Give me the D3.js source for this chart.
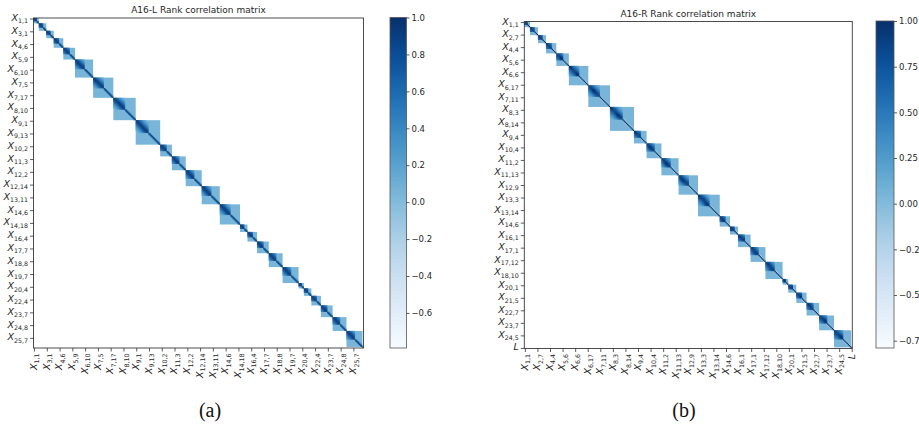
<!DOCTYPE html>
<html><head><meta charset="utf-8">
<script src="https://cdn.jsdelivr.net/npm/d3@7"></script>
<style>body{margin:0;background:#fff} svg{display:block}</style>
</head><body>
<svg id="c" width="919" height="432"></svg>
<script>
// ---------- data ----------
// variables per group (X_{g,j}), in order; last variable of each matrix is L
const groupSizesA = [5,7,7,9,11,17,19,21,23,11,13,15,17,19,7,9,11,13,15,5,7,9,11,13,15];
const tickLabelsA = ["1,1","3,1","4,6","5,9","6,10","7,5","7,17","8,10","9,1","9,13","10,2","11,3","12,2","12,14","13,11","14,6","14,18","16,4","17,7","18,8","19,7","20,4","22,4","23,7","24,8","25,7"];
const tickStepA = 12;

const groupSizesB = [5,7,7,9,11,17,19,21,11,13,15,17,19,9,7,11,13,15,5,7,9,11,13,15];
const tickLabelsB = ["1,1","2,7","4,4","5,6","6,6","6,17","7,11","8,3","8,14","9,4","10,4","11,2","11,13","12,9","13,3","13,14","14,6","16,1","17,1","17,12","18,10","20,1","21,5","22,7","23,7","24,5","L"];
const tickStepB = 11;

// correlation by lag inside the leading part of each group, the rest of the block, and the trailing part
const coreLagValues = [1.0, 0.9, 0.78, 0.65, 0.52, 0.4, 0.3, 0.22, 0.15, 0.1];
const blockValue = 0.05;
const tailLagValuesA = [1.0, 0.45];
const tailLagValuesB = [1.0, -0.15];

const cbTicksA = [-0.6,-0.4,-0.2,0.0,0.2,0.4,0.6,0.8,1.0];
const cbTicksB = [-0.75,-0.5,-0.25,0.0,0.25,0.5,0.75,1.0];
const vmin = -0.79, vmax = 1.0;

// ---------- drawing ----------
const svg = d3.select("#c");
const color = d3.scaleSequential(d3.interpolateBlues).domain([vmin, vmax]);
const FONT = "DejaVu Sans, sans-serif";

const panels = [
  {title:"A16-L Rank correlation matrix", sizes:groupSizesA, labels:tickLabelsA, step:tickStepA, tail:tailLagValuesA,
   left:33.5, top:18, w:330, h:330, cb:{x:390, y:17.5, w:16.5, h:330.5, ticks:cbTicksA, fmt:d3.format(".1f")},
   caption:"(a)", capX:210, id:"a"},
  {title:"A16-R Rank correlation matrix", sizes:groupSizesB, labels:tickLabelsB, step:tickStepB, tail:tailLagValuesB,
   left:524.3, top:21.5, w:328, h:327, cb:{x:876, y:21, w:18, h:327, ticks:cbTicksB, fmt:d3.format(".2f")},
   caption:"(b)", capX:684, id:"b"}
];

panels.forEach(p => {
  const N = d3.sum(p.sizes) + 1; // + L
  const x = d3.scaleLinear().domain([0, N]).range([p.left, p.left + p.w]);
  const y = d3.scaleLinear().domain([0, N]).range([p.top, p.top + p.h]);
  const g = svg.append("g");

  // blocks
  const blocks = [];
  let start = 0;
  p.sizes.forEach(n => { blocks.push({start, n}); start += n; });
  g.selectAll("rect.block").data(blocks).join("rect")
    .attr("x", d => x(d.start)).attr("y", d => y(d.start))
    .attr("width", d => x(d.start + d.n) - x(d.start))
    .attr("height", d => y(d.start + d.n) - y(d.start))
    .attr("fill", color(blockValue));

  // cells inside blocks
  const cells = [];
  blocks.forEach(b => {
    const c = Math.ceil(b.n / 2);
    for (let i = 0; i < c; i++) for (let j = 0; j < c; j++) {
      const lag = Math.abs(i - j);
      if (lag < coreLagValues.length) cells.push({i: b.start + i, j: b.start + j, v: coreLagValues[lag]});
    }
    for (let i = c; i < b.n; i++) {
      cells.push({i: b.start + i, j: b.start + i, v: p.tail[0]});
      if (i - 1 >= c) { cells.push({i: b.start + i, j: b.start + i - 1, v: p.tail[1]}); }
      if (i + 1 < b.n) { cells.push({i: b.start + i, j: b.start + i + 1, v: p.tail[1]}); }
    }
  });
  cells.push({i: N - 1, j: N - 1, v: 1.0});
  cells.sort((a, b) => a.v - b.v);
  g.selectAll("rect.cell").data(cells).join("rect")
    .attr("x", d => x(d.j) - 0.1).attr("y", d => y(d.i) - 0.1)
    .attr("width", d => x(d.j + 1) - x(d.j) + 0.2)
    .attr("height", d => y(d.i + 1) - y(d.i) + 0.2)
    .attr("fill", d => color(d.v));

  // frame
  g.append("rect").attr("x", p.left).attr("y", p.top).attr("width", p.w).attr("height", p.h)
    .attr("fill", "none").attr("stroke", "#3a3a3a").attr("stroke-width", 0.9);

  // ticks
  const tickIdx = p.labels.map((l, k) => k * p.step + 0.5);
  g.append("g").attr("transform", `translate(${p.left},0)`)
    .call(d3.axisLeft(y).tickValues(tickIdx).tickSize(3.5).tickFormat(""))
    .call(a => a.select(".domain").remove())
    .selectAll("line").attr("stroke", "#333").attr("stroke-width", 0.8);
  g.append("g").attr("transform", `translate(0,${p.top + p.h})`)
    .call(d3.axisBottom(x).tickValues(tickIdx).tickSize(3.5).tickFormat(""))
    .call(a => a.select(".domain").remove())
    .selectAll("line").attr("stroke", "#333").attr("stroke-width", 0.8);

  function mathLabel(t, lab) {
    if (lab === "L") {
      t.append("tspan").attr("font-style", "italic").attr("font-size", 9.5).text("L");
    } else {
      t.append("tspan").attr("font-style", "italic").attr("font-size", 9.5).text("X");
      t.append("tspan").attr("font-size", 6.3).attr("dy", 2.4).text(lab);
    }
  }
  // y labels
  p.labels.forEach((lab, k) => {
    const t = g.append("text").attr("x", p.left - 5.5).attr("y", y(tickIdx[k]) + 2.5)
      .attr("text-anchor", "end").attr("font-family", FONT).attr("fill", "#262626");
    mathLabel(t, lab);
  });
  // x labels
  p.labels.forEach((lab, k) => {
    const t = g.append("text")
      .attr("transform", `translate(${x(tickIdx[k])},${p.top + p.h + 5.5}) rotate(-90)`)
      .attr("x", 0).attr("y", 2.8)
      .attr("text-anchor", "end").attr("font-family", FONT).attr("fill", "#262626");
    mathLabel(t, lab);
  });

  // title
  g.append("text").attr("x", p.left + p.w / 2).attr("y", p.top - 5)
    .attr("text-anchor", "middle").attr("font-family", FONT).attr("font-size", 9)
    .attr("fill", "#262626").text(p.title);

  // colorbar
  const cb = p.cb;
  const gradId = "grad" + p.id;
  const grad = svg.append("defs").append("linearGradient").attr("id", gradId)
    .attr("x1", 0).attr("y1", 1).attr("x2", 0).attr("y2", 0);
  d3.range(0, 1.0001, 0.05).forEach(t => grad.append("stop").attr("offset", t).attr("stop-color", d3.interpolateBlues(t)));
  g.append("rect").attr("x", cb.x).attr("y", cb.y).attr("width", cb.w).attr("height", cb.h)
    .attr("fill", `url(#${gradId})`).attr("stroke", "#555").attr("stroke-width", 0.8);
  const cs = d3.scaleLinear().domain([vmin, vmax]).range([cb.y + cb.h, cb.y]);
  const ax = g.append("g").attr("transform", `translate(${cb.x + cb.w},0)`)
    .call(d3.axisRight(cs).tickValues(cb.ticks).tickSize(3).tickPadding(2).tickFormat(cb.fmt));
  ax.select(".domain").remove();
  ax.selectAll("line").attr("stroke", "#333").attr("stroke-width", 0.8);
  ax.selectAll("text").attr("font-family", FONT).attr("font-size", 8.5).attr("fill", "#262626");

  // caption
  svg.append("text").attr("x", p.capX).attr("y", 417).attr("text-anchor", "middle")
    .attr("font-family", "Liberation Serif, DejaVu Serif, serif").attr("font-size", 20)
    .attr("fill", "#111").text(p.caption);
});
</script>
</body></html>
